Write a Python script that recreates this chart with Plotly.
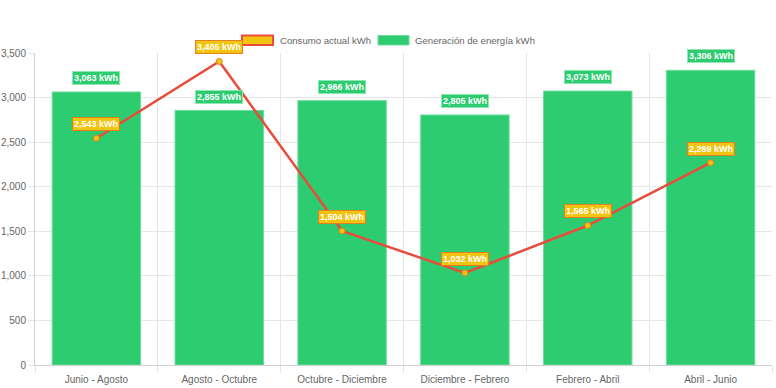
import plotly.graph_objects as go

categories = ["Junio - Agosto", "Agosto - Octubre", "Octubre - Diciembre",
              "Diciembre - Febrero", "Febrero - Abril", "Abril - Junio"]
generacion = [3063, 2855, 2966, 2805, 3073, 3306]
consumo = [2543, 3405, 1504, 1032, 1565, 2269]
y_ticks = [0, 500, 1000, 1500, 2000, 2500, 3000, 3500]

W, H = 776, 388
ML, MR, MT, MB = 35, 4, 53, 23
PW, PH = W - ML - MR, H - MT - MB

GREEN = "#2ECC71"
RED = "#E74C3C"
YELLOW = "#F1C40F"
ORANGE = "#E67E22"

def px(x):
    return (x - ML) / PW

def py(y):
    return (H - MB - y) / PH

fig = go.Figure()
fig.add_trace(go.Bar(
    x=categories, y=generacion, name="Generación de energía kWh",
    marker=dict(color=GREEN, line=dict(color="#6fdc9c", width=1)),
    showlegend=False, hoverinfo="x+y",
))
fig.add_trace(go.Scatter(
    x=categories, y=consumo, name="Consumo actual kWh", mode="lines+markers",
    line=dict(color=RED, width=2.5),
    marker=dict(color=YELLOW, size=6, line=dict(color=ORANGE, width=1)),
    showlegend=False,
))

annotations = []
for c, v in zip(categories, generacion):
    annotations.append(dict(
        x=c, y=v, yshift=14, text=f"<b>{v:,} kWh</b>", showarrow=False,
        font=dict(family="Liberation Sans, Arial", size=9, color="white"),
        bgcolor=GREEN, bordercolor="#8ee6b3", borderwidth=1, borderpad=1,
    ))
for c, v in zip(categories, consumo):
    annotations.append(dict(
        x=c, y=v, yshift=14, text=f"<b>{v:,} kWh</b>", showarrow=False,
        font=dict(family="Liberation Sans, Arial", size=9, color="white"),
        bgcolor=YELLOW, bordercolor=ORANGE, borderwidth=1, borderpad=1,
    ))

# custom legend
annotations.append(dict(xref="paper", yref="paper", x=px(278), y=py(40.5),
                        xanchor="left", yanchor="middle", showarrow=False,
                        text="Consumo actual kWh",
                        font=dict(family="Liberation Sans, Arial", size=9.6, color="#666")))
annotations.append(dict(xref="paper", yref="paper", x=px(413), y=py(40.5),
                        xanchor="left", yanchor="middle", showarrow=False,
                        text="Generación de energía kWh",
                        font=dict(family="Liberation Sans, Arial", size=9.6, color="#666")))
shapes = [
    dict(type="rect", xref="paper", yref="paper", x0=px(242), x1=px(273),
         y0=py(45), y1=py(35.5), fillcolor=YELLOW, line=dict(color=RED, width=2)),
    dict(type="rect", xref="paper", yref="paper", x0=px(378), x1=px(409),
         y0=py(45), y1=py(35.5), fillcolor=GREEN, line=dict(color="#6fdc9c", width=1)),
]

fig.update_layout(
    width=W, height=H,
    margin=dict(l=ML, r=MR, t=MT, b=MB, autoexpand=False),
    plot_bgcolor="white", paper_bgcolor="white",
    barmode="overlay", bargap=0.28,
    showlegend=False,
    annotations=annotations, shapes=shapes,
    font=dict(family="Liberation Sans, Arial", size=10, color="#666"),
)
fig.update_xaxes(
    type="category", tickson="boundaries", showgrid=True, gridcolor="#e6e6e6",
    ticks="outside", ticklen=7, tickcolor="#e6e6e6", ticklabelstandoff=5,
    showline=True, linecolor="#d0d0d0", linewidth=1, automargin=False,
    tickfont=dict(size=10, color="#666"), mirror=False,
)
fig.update_yaxes(
    range=[0, 3500], tickvals=y_ticks, tickformat=",d",
    showgrid=True, gridcolor="#e6e6e6", zeroline=False,
    ticks="outside", ticklen=6, tickcolor="#e6e6e6", automargin=False,
    showline=True, linecolor="#d0d0d0", linewidth=1,
    tickfont=dict(size=10, color="#666"),
)

fig.write_html("out.html", config={"displayModeBar": False},
               post_script="document.body.style.margin='0px';")
